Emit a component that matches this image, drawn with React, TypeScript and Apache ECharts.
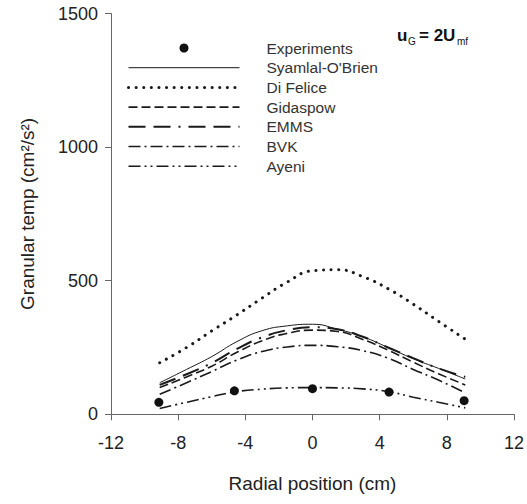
import React, { useEffect, useRef } from "react";
import * as echarts from "echarts";

// Radial positions (cm) of the simulation curves
const xs = [-9.1, -7.5, -6, -4.5, -3, -1.5, 0, 1.5, 3, 4.5, 6, 7.5, 9.1];
const syamlal = [118, 168, 216, 272, 313, 331, 337, 318, 290, 250, 208, 172, 132];
const diFelice = [193, 250, 312, 372, 435, 495, 537, 541, 515, 470, 412, 348, 281];
const gidaspow = [100, 140, 180, 232, 275, 303, 315, 310, 280, 240, 195, 152, 110];
const emms = [110, 150, 192, 245, 288, 315, 326, 318, 290, 250, 210, 172, 140];
const bvk = [75, 118, 160, 203, 235, 252, 258, 253, 238, 210, 168, 128, 80];
const ayeni = [22, 45, 66, 85, 94, 99, 100, 99, 95, 85, 64, 45, 24];

// Experiments
const expX = [-9.15, -4.65, 0, 4.56, 9.03];
const expY = [45, 88, 96, 83, 51];

const xTicks = { min: -12, max: 12, interval: 4 };
const yTicks = { min: 0, max: 1500, interval: 500 };

const FONT = "'Liberation Sans', Arial, sans-serif";
const LINE = "#1a1a1a";

const pairs = (x: number[], y: number[]) => x.map((v, i) => [v, y[i]]);

export default function App() {
  const ref = useRef<HTMLDivElement>(null);
  useEffect(() => {
    if (!ref.current) return;
    const chart = echarts.init(ref.current, undefined, { renderer: "svg" });
    const lineSeries = (name: string, data: number[], width: number, type: any, extra: any = {}) => ({
      name,
      type: "line",
      data: pairs(xs, data),
      smooth: true,
      symbol: "none",
      lineStyle: { color: LINE, width, type, ...extra },
      itemStyle: { color: LINE },
      z: 2,
    });
    const axisCommon = {
      nameLocation: "middle",
      nameTextStyle: { fontSize: 19, color: "#222", fontFamily: FONT },
      axisLine: { show: true, onZero: false, lineStyle: { color: "#666", width: 1 } },
      axisTick: { show: true, inside: false, length: 6, lineStyle: { color: "#666" } },
      splitLine: { show: false },
    };
    chart.setOption({
      animation: false,
      backgroundColor: "#fff",
      textStyle: { fontFamily: FONT },
      grid: { left: 111, right: 12, top: 13.5, bottom: 89.7 },
      xAxis: {
        type: "value",
        ...xTicks,
        ...axisCommon,
        name: "Radial position (cm)",
        nameGap: 60,
        axisLabel: { fontSize: 18, color: "#222", margin: 20, fontFamily: FONT, formatter: (v: number) => String(v) },
      },
      yAxis: {
        type: "value",
        ...yTicks,
        ...axisCommon,
        name: "Granular temp (cm\u00B2/s\u00B2)",
        nameGap: 74,
        axisLabel: { fontSize: 18, color: "#222", margin: 13, fontFamily: FONT, formatter: (v: number) => String(v) },
      },
      legend: {
        orient: "vertical",
        left: 127,
        top: 40,
        padding: 0,
        itemWidth: 111,
        itemHeight: 9,
        itemGap: 3.7,
        textStyle: { fontSize: 15.5, color: "#333", fontFamily: FONT, lineHeight: 16, padding: [0, 0, 0, 22] },
        lineStyle: { width: "inherit" },
        itemStyle: { opacity: 0 },
        data: [
          { name: "Experiments", icon: "circle", itemStyle: { opacity: 1 } },
          "Syamlal-O'Brien",
          "Di Felice",
          "Gidaspow",
          "EMMS",
          "BVK",
          "Ayeni",
        ],
      },
      graphic: [
        { type: "text", x: 397, y: 35, style: { text: "u", font: `bold 17px ${FONT}`, fill: "#111", verticalAlign: "middle" } },
        { type: "text", x: 408, y: 41.5, style: { text: "G", font: `10px ${FONT}`, fill: "#111", verticalAlign: "middle" } },
        { type: "text", x: 419, y: 35, style: { text: "= 2U", font: `bold 17px ${FONT}`, fill: "#111", verticalAlign: "middle" } },
        { type: "text", x: 457, y: 41.5, style: { text: "mf", font: `10px ${FONT}`, fill: "#111", verticalAlign: "middle" } },
      ],
      series: [
        {
          name: "Experiments",
          type: "scatter",
          data: pairs(expX, expY),
          symbol: "circle",
          symbolSize: 9,
          itemStyle: { color: "#111", opacity: 1 },
          z: 5,
        },
        lineSeries("Syamlal-O'Brien", syamlal, 1, "solid"),
        lineSeries("Di Felice", diFelice, 3, [0.1, 7.5], { cap: "round" }),
        lineSeries("Gidaspow", gidaspow, 1.6, [9, 4]),
        lineSeries("EMMS", emms, 2, [17, 8, 17, 8, 2, 8]),
        lineSeries("BVK", bvk, 1.6, [12, 4, 2, 4]),
        lineSeries("Ayeni", ayeni, 1.6, [12, 4, 2, 4, 2, 4]),
      ],
    });
    return () => chart.dispose();
  }, []);
  return <div ref={ref} style={{ width: 527, height: 504, position: "fixed", left: 0, top: 0 }} />;
}
